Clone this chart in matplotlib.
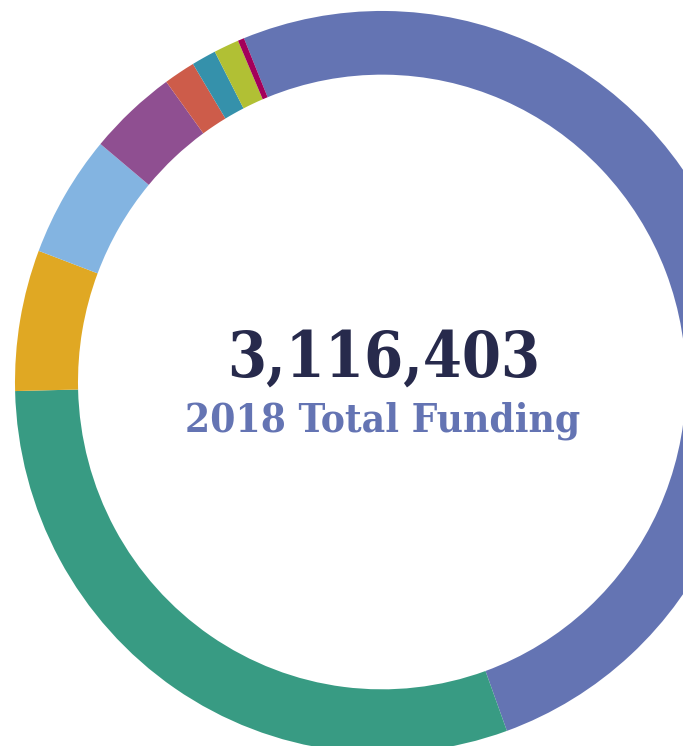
import matplotlib
matplotlib.use("Agg")
import matplotlib.pyplot as plt

# 2018 funding by source (share of 3,116,403)
sources = ["A", "B", "C", "D", "E", "F", "G", "H", "I"]
funding = [1577250, 939250, 191310, 166210, 122060, 43280, 33760, 34630, 8660]
colors = ["#6474b3", "#389b83", "#e0a823", "#83b4e1", "#8f4f91",
          "#cd5c4a", "#3591ab", "#b1c034", "#a3005a"]
total_label = "3,116,403"
sub_label = "2018 Total Funding"

W, H = 683, 746
fig = plt.figure(figsize=(W / 100, H / 100), dpi=100)
ax = fig.add_axes([0, 0, 1, 1])

# ring is a touch taller than wide in the original
s = 1.011
cx, cy = 382, 382
R = 367
ring = 63

ax.pie(funding, colors=colors, startangle=112.1, counterclock=False,
       center=(cx, (H - cy) / s), radius=R,
       wedgeprops=dict(width=ring, edgecolor="none", linewidth=0))

ax.text(384 / W, 1 - 359 / H, total_label, transform=ax.transAxes,
        ha="center", va="center",
        fontsize=45, fontweight="bold", color="#272a4c",
        family="DejaVu Serif", fontstretch="condensed")
ax.text(383 / W, 1 - 421 / H, sub_label, transform=ax.transAxes,
        ha="center", va="center",
        fontsize=29, fontweight="bold", color="#6474b3",
        family="DejaVu Serif", fontstretch="condensed")

ax.set_xlim(0, W)
ax.set_ylim(0, H / s)
ax.set_aspect("auto")
ax.axis("off")

fig.savefig("out.png", dpi=100)
